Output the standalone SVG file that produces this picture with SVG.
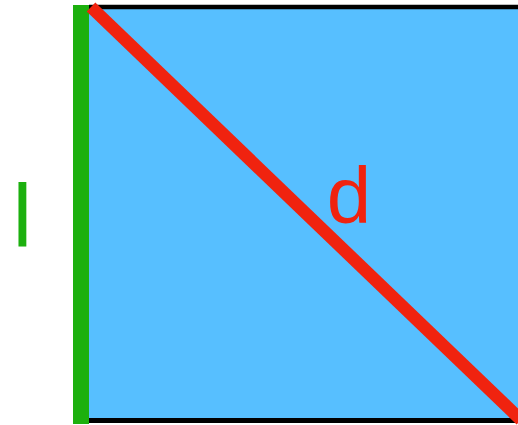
<svg xmlns="http://www.w3.org/2000/svg" width="518" height="425" viewBox="0 0 518 425">
<style>
.lbl{font-family:"Liberation Sans",Arial,sans-serif;text-anchor:middle}
</style>
<rect width="518" height="425" fill="#ffffff"/>
<g id="square">
<rect x="89" y="7" width="440" height="413" fill="#57BFFF"/>
<line x1="89" y1="7" x2="530" y2="7" stroke="#000" stroke-width="4.5"/>
<line x1="89" y1="420.5" x2="530" y2="420.5" stroke="#000" stroke-width="5"/>
</g>
<g id="connectors">
<line id="side-l" x1="81" y1="5" x2="81" y2="424" stroke="#1CB00E" stroke-width="16"/>
<line id="diag-d" x1="91" y1="7" x2="521" y2="420" stroke="#F0230F" stroke-width="12.5"/>
</g>
<g id="label-l"><text class="lbl" x="22.5" y="247" font-size="89" fill="#1CB00E">l</text></g>
<g id="label-d"><text class="lbl" x="349" y="223" font-size="80" fill="#F0230F">d</text></g>
</svg>
